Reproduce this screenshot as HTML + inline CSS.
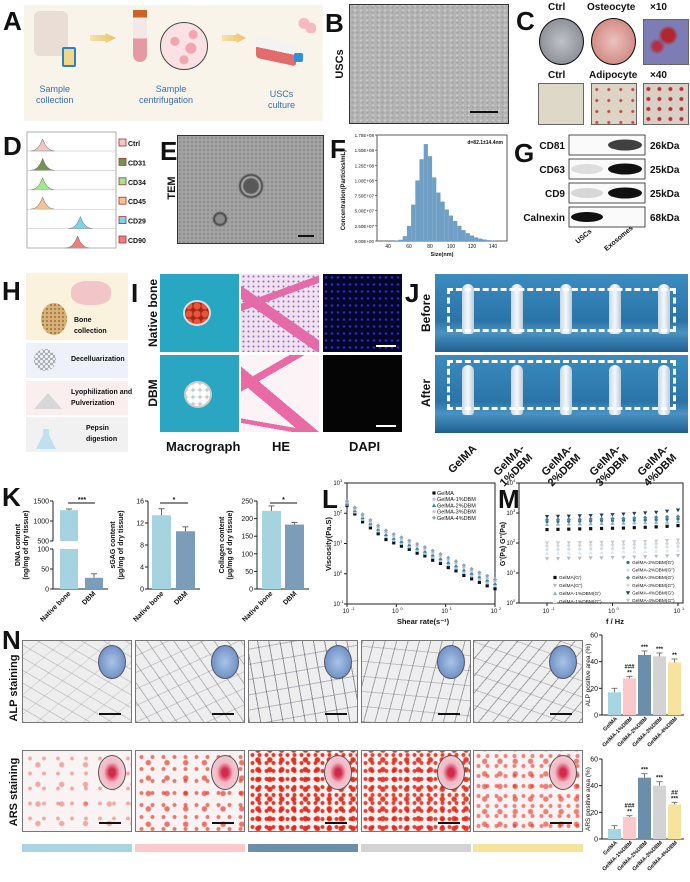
<!DOCTYPE html>
<html><head><meta charset="utf-8">
<style>
*{margin:0;padding:0;box-sizing:border-box}
body{width:690px;height:882px;background:#fff;position:relative;overflow:hidden;font-family:"Liberation Sans",Arial,sans-serif;color:#111}
.a{position:absolute}
.lbl{position:absolute;font-weight:bold;font-size:26px;line-height:1}
.t{position:absolute;font-weight:bold;white-space:nowrap}
.img{position:absolute;border:1px solid #666}
</style></head>
<body>

<!-- A -->
<div class="lbl" style="left:3px;top:8px">A</div>
<div class="a" style="left:24px;top:5px;width:222px;height:116px;background:#f8f4ea">
  <div class="a" style="left:10px;top:6px;width:34px;height:45px;background:#e9ddd5;border-radius:6px"></div>
  <div class="a" style="left:38px;top:42px;width:14px;height:20px;background:#f1d888;border:2px solid #2f7fc4;border-radius:2px"></div>
  <div class="a" style="left:66px;top:28px;width:26px;height:10px;background:linear-gradient(90deg,#f6e2b0,#f0c060);clip-path:polygon(0 20%,60% 20%,60% 0,100% 50%,60% 100%,60% 80%,0 80%)"></div>
  <div class="a" style="left:109px;top:5px;width:14px;height:52px;background:linear-gradient(#c86428 0 14%,#f4e7e7 14% 55%,#e39aa2 55%);border-radius:0 0 7px 7px"></div>
  <div class="a" style="left:136px;top:17px;width:48px;height:48px;border-radius:50%;border:1.5px solid #444;background:radial-gradient(circle at 30% 40%,#f0a6ae 0 4px,transparent 5px),radial-gradient(circle at 65% 55%,#f0a6ae 0 5px,transparent 6px),radial-gradient(circle at 50% 80%,#f0a6ae 0 4px,transparent 5px),radial-gradient(circle at 70% 25%,#f0a6ae 0 4px,transparent 5px),#fbe1e3"></div>
  <div class="a" style="left:198px;top:28px;width:24px;height:10px;background:linear-gradient(90deg,#f6e2b0,#f0c060);clip-path:polygon(0 20%,60% 20%,60% 0,100% 50%,60% 100%,60% 80%,0 80%)"></div>
  <div class="t" style="left:12px;top:79px;font-size:9px;color:#3a6db0;text-align:center;line-height:11px;font-weight:normal">Sample<br>collection</div>
  <div class="t" style="left:115px;top:79px;font-size:9px;color:#3a6db0;text-align:center;line-height:11px;font-weight:normal">&nbsp;&nbsp;&nbsp;&nbsp;Sample<br>centrifugation</div>
</div>
<div class="a" style="left:246px;top:5px;width:77px;height:116px;background:#f8f4ea">
  <div class="a" style="left:10px;top:35px;width:40px;height:22px;background:linear-gradient(#f3f3f3 50%,#e36b6b 50%);transform:skewY(12deg);border-radius:3px"></div>
  <div class="a" style="left:48px;top:48px;width:9px;height:9px;background:#2f8fd8;border-radius:2px"></div>
  <div class="a" style="left:50px;top:12px;width:20px;height:16px;background:radial-gradient(circle at 40% 40%,#f7b8bf 0 5px,transparent 6px),radial-gradient(circle at 75% 70%,#f7b8bf 0 5px,transparent 6px)"></div>
  <div class="t" style="left:22px;top:84px;font-size:9px;color:#3a6db0;text-align:center;line-height:11px;font-weight:normal">USCs<br>culture</div>
</div>

<!-- B -->
<div class="lbl" style="left:325px;top:10px">B</div>
<div class="img" style="left:349px;top:4px;width:160px;height:120px;background:radial-gradient(circle,#a2a2a2 0.8px,transparent 1.4px) 0 0/5px 5px,radial-gradient(circle,#cacaca 0.8px,transparent 1.4px) 2px 3px/6px 5px,#b4b4b4;border:1.5px solid #333">
  <div class="a" style="right:10px;bottom:10px;width:28px;height:2px;background:#111"></div>
</div>

<!-- C -->
<div class="lbl" style="left:516px;top:8px">C</div>
<div class="t" style="left:548px;top:2px;font-size:10px">Ctrl</div>
<div class="t" style="left:587px;top:2px;font-size:10px">Osteocyte</div>
<div class="t" style="left:650px;top:2px;font-size:10px">×10</div>
<div class="a" style="left:539px;top:18px;width:45px;height:47px;border-radius:50%;border:1.5px solid #111;background:radial-gradient(#bfc2c8,#7a7e86)"></div>
<div class="a" style="left:591px;top:18px;width:45px;height:47px;border-radius:50%;border:1.5px solid #111;background:radial-gradient(#ecc2bf,#c8776d)"></div>
<div class="img" style="left:643px;top:19px;width:46px;height:46px;background:radial-gradient(circle at 55% 35%,#b3262b 0 6px,transparent 10px),radial-gradient(circle at 30% 60%,#b33040 0 4px,transparent 8px),#7d7db5"></div>
<div class="t" style="left:548px;top:70px;font-size:10px">Ctrl</div>
<div class="t" style="left:589px;top:70px;font-size:10px">Adipocyte</div>
<div class="t" style="left:650px;top:70px;font-size:10px">×40</div>
<div class="img" style="left:538px;top:83px;width:46px;height:42px;background:#ddd8c8"></div>
<div class="img" style="left:591px;top:83px;width:46px;height:42px;background:radial-gradient(circle at 40% 50%,#c0474e 0 1px,transparent 2px) 0 0/12px 11px,#ddd4c6"></div>
<div class="img" style="left:643px;top:83px;width:46px;height:42px;background:radial-gradient(circle at 40% 50%,#b8323c 0 1.5px,transparent 2.5px) 0 0/11px 10px,#d9cfc4"></div>

<div class="lbl" style="left:3px;top:133px">D</div>

<!-- E -->
<div class="lbl" style="left:160px;top:138px">E</div>
<div class="img" style="left:177px;top:135px;width:147px;height:109px;background:radial-gradient(circle at 73px 50px,#585858 0 7px,#b0b0b0 9px,#444 11px,transparent 13px),radial-gradient(circle at 42px 83px,#8a8a8a 0 4px,#444 6px,transparent 8px),radial-gradient(circle,#8f8f8f .8px,transparent 1.5px) 0 0/4px 4px,#a3a3a3;border:1.5px solid #333">
  <div class="a" style="right:9px;bottom:6px;width:16px;height:2px;background:#111"></div>
</div>

<div class="lbl" style="left:330px;top:136px">F</div>
<div class="lbl" style="left:514px;top:140px">G</div>

<!-- H -->
<div class="lbl" style="left:2px;top:278px">H</div>
<div class="a" style="left:26px;top:273px;width:102px;height:67px;background:#faf2dd">
  <div class="a" style="left:15px;top:30px;width:26px;height:32px;border-radius:50%;background:radial-gradient(circle,#a07a40 .8px,transparent 1.3px) 0 0/4px 4px,#d8b078"></div>
  <div class="a" style="left:45px;top:8px;width:40px;height:24px;border-radius:40%;background:#f2c6c8"></div>
  <div class="t" style="left:48px;top:42px;font-size:7px;line-height:11px">Bone<br>collection</div>
</div>
<div class="a" style="left:26px;top:343px;width:102px;height:35px;background:#eef1fa">
  <div class="a" style="left:8px;top:6px;width:22px;height:22px;border-radius:50%;background:radial-gradient(circle,transparent 1.5px,#666 2px,transparent 2.5px) 0 0/5px 5px"></div>
  <div class="t" style="left:45px;top:13px;font-size:7px">Decelluarization</div>
</div>
<div class="a" style="left:26px;top:381px;width:102px;height:34px;background:#fbeeee">
  <div class="a" style="left:8px;top:12px;width:28px;height:16px;background:#d8d8d8;clip-path:polygon(50% 0,100% 100%,0 100%)"></div>
  <div class="t" style="left:45px;top:6px;font-size:7px;line-height:11px">Lyophilization and<br>Pulverization</div>
</div>
<div class="a" style="left:26px;top:417px;width:102px;height:35px;background:#f1f1f1">
  <div class="a" style="left:10px;top:12px;width:20px;height:20px;background:#bfe0f0;clip-path:polygon(35% 0,65% 0,65% 30%,100% 100%,0 100%,35% 30%)"></div>
  <div class="t" style="left:60px;top:6px;font-size:7px;line-height:11px">Pepsin<br>digestion</div>
</div>

<!-- I -->
<div class="lbl" style="left:131px;top:280px">I</div>
<div class="a" style="left:160px;top:274px;width:79px;height:78px;background:#28a7c3"><div class="a" style="left:23px;top:26px;width:28px;height:26px;border-radius:50%;background:radial-gradient(circle,#e8553a 0 3px,#a02818 4px) 0 0/8px 8px;border:2px solid #ddd"></div></div>
<div class="a" style="left:241px;top:274px;width:78px;height:78px;background:linear-gradient(35deg,transparent 40%,#e56aa8 40% 50%,transparent 50%),linear-gradient(-20deg,transparent 65%,#e56aa8 65% 72%,transparent 72%),radial-gradient(circle,#8a6fc0 .7px,transparent 1.3px) 0 0/5px 5px,#f2e2ef"></div>
<div class="a" style="left:323px;top:274px;width:79px;height:78px;background:radial-gradient(circle,#2a2ad0 .8px,transparent 1.6px) 0 0/6px 7px,#06062a"><div class="a" style="right:6px;bottom:5px;width:20px;height:2px;background:#fff"></div></div>
<div class="a" style="left:160px;top:355px;width:79px;height:77px;background:#2aa6c2"><div class="a" style="left:24px;top:26px;width:28px;height:27px;border-radius:50%;background:radial-gradient(circle,#fff 0 3px,#c8c8c8 4px) 0 0/7px 7px;border:2px solid #ccc"></div></div>
<div class="a" style="left:241px;top:355px;width:78px;height:77px;background:linear-gradient(40deg,transparent 35%,#ea6aa6 35% 46%,transparent 46%),linear-gradient(-30deg,transparent 70%,#ea6aa6 70% 77%,transparent 77%),linear-gradient(10deg,transparent 10%,#ea6aa6 10% 15%,transparent 15%),#fbf3f6"></div>
<div class="a" style="left:323px;top:355px;width:79px;height:77px;background:#050505"><div class="a" style="right:6px;bottom:5px;width:20px;height:2px;background:#fff"></div></div>
<div class="t" style="left:166px;top:439px;font-size:13px">Macrograph</div>
<div class="t" style="left:272px;top:439px;font-size:13px">HE</div>
<div class="t" style="left:349px;top:439px;font-size:13px">DAPI</div>

<!-- J -->
<div class="lbl" style="left:405px;top:280px">J</div>
<div id="jphotos"></div>

<div class="lbl" style="left:2px;top:484px">K</div>
<div class="lbl" style="left:322px;top:486px">L</div>
<div class="lbl" style="left:498px;top:486px">M</div>

<div class="lbl" style="left:2px;top:627px">N</div>
<div id="nimgs"></div>

<svg id="chart" class="a" style="left:0;top:0" width="690" height="882"></svg>

<script>
// ---------- DATA ----------
const dMarkers = ["Ctrl","CD31","CD34","CD45","CD29","CD90"];
const dPeakLog = [0.45,0.45,0.45,0.45,1.8,1.7];
const fSizes = [44,48,52,56,60,64,68,72,76,80,84,88,92,96,100,104,108,112,116,120,124,128,132,136,140];
const fConc = [0.0,0.05,0.2,0.8,2.5,6,10,13.5,16,14,10.5,8,6.5,5.2,4.2,3.3,2.5,1.8,1.3,0.9,0.6,0.4,0.25,0.15,0.05];
const fTicksY = ["0.00E+00","2.50E+07","5.00E+07","7.50E+07","1.00E+08","1.25E+08","1.50E+08","1.75E+08"];
const fTicksX = [40,60,80,100,120,140];
const gProteins = ["CD81","CD63","CD9","Calnexin"];
const gWeights = ["26kDa","25kDa","25kDa","68kDa"];
const gUSCs = [0,0.12,0.15,1];
const gExo = [0.8,1,1,0];
const kCats = ["Native bone","DBM"];
const kDNA = [1270,28];
const kDNAerr = [30,10];
const kGAG = [13.4,10.5];
const kGAGerr = [1.2,0.8];
const kCol = [222,183];
const kColErr = [14,6];
const lShear = [0.1,0.144,0.207,0.298,0.428,0.616,0.886,1.27,1.83,2.64,3.79,5.46,7.85,11.3,16.2,23.4,33.6,48.3,69.5,100];
const lGelMA = [180,95,52,33,21,13.5,10.5,8.2,6.4,4.8,3.9,2.8,2.2,1.6,1.25,0.88,0.68,0.52,0.4,0.32];
const lD1 = [200,110,62,40,26,17,12.8,10,7.8,5.9,4.7,3.5,2.7,2.0,1.55,1.1,0.85,0.65,0.5,0.4];
const lD2 = [215,125,72,47,30,20,15,11.8,9.2,7,5.6,4.2,3.2,2.4,1.85,1.35,1.05,0.8,0.62,0.48];
const lD3 = [235,140,82,53,34,23,17.5,13.8,10.8,8.2,6.5,4.9,3.8,2.9,2.2,1.6,1.25,0.95,0.72,0.56];
const lD4 = [255,155,92,60,39,27,20.5,16,12.5,9.6,7.6,5.8,4.5,3.4,2.6,1.9,1.45,1.1,0.85,0.65];
const lNames = ["GelMA","GelMA-1%DBM","GelMA-2%DBM","GelMA-3%DBM","GelMA-4%DBM"];
const mFreq = [0.1,0.147,0.215,0.316,0.464,0.681,1,1.47,2.15,3.16,4.64,6.81,10];
const mG1 = [280,285,290,295,300,305,310,315,325,335,345,360,380];
const mGG1 = [30,30,31,31,32,32,33,33,34,35,36,37,38];
const mG2 = [420,425,430,435,440,450,455,460,470,480,490,500,520];
const mGG2 = [45,46,46,47,48,48,49,50,51,52,53,55,57];
const mG3 = [520,525,530,535,545,555,560,570,580,590,600,620,640];
const mGG3 = [60,61,62,63,64,65,66,67,68,70,72,74,76];
const mG4 = [600,605,610,620,630,640,650,660,680,700,720,740,760];
const mGG4 = [80,81,82,83,84,85,86,88,90,92,94,96,98];
const mG5 = [760,770,780,800,820,850,880,920,960,1000,1050,1150,1250];
const mGG5 = [100,101,102,103,104,105,106,108,110,112,115,120,125];
const nGroups = ["GelMA","GelMA-1%DBM","GelMA-2%DBM","GelMA-3%DBM","GelMA-4%DBM"];
const nALP = [17,27.5,45,44,39.5];
const nALPerr = [3,1.5,3,2.5,2.5];
const nALPsig = ["","###\n**","***","***","**"];
const nARS = [7.5,16.5,46,40,26];
const nARSerr = [2.5,1,3,3,1.5];
const nARSsig = ["","###\n**","***","***","##\n***"];
const nTicks = [0,20,40,60];

// ---------- HELPERS ----------
const NS="http://www.w3.org/2000/svg";
const svg=document.getElementById('chart');
function mk(tag,attrs,parent){const e=document.createElementNS(NS,tag);for(const k in attrs)e.setAttribute(k,attrs[k]);(parent||svg).appendChild(e);return e;}
function txt(x,y,s,size,opts){const e=mk('text',Object.assign({x:x,y:y,'font-size':size,'font-family':'Liberation Sans, Arial, sans-serif','font-weight':'bold',fill:'#111'},opts||{}));e.textContent=s;return e;}
function lin(d0,d1,r0,r1){return v=>r0+(v-d0)/(d1-d0)*(r1-r0);}
function logs(d0,d1,r0,r1){return v=>r0+(Math.log10(v)-Math.log10(d0))/(Math.log10(d1)-Math.log10(d0))*(r1-r0);}
function div(parent,css){const e=document.createElement('div');e.className='a';e.style.cssText=css;parent.appendChild(e);return e;}

// rotated row labels
[["USCs",340,64,11,"uscs-axis-label"],["TEM",172,188,11,"tem-label"],["Native bone",154,313,12,"native-bone-row-label"],["DBM",154,393,12,"dbm-row-label"],["Before",427,313,12,"before-label"],["After",427,393,12,"after-label"],["ALP staining",14,688,11,"alp-staining-label"],["ARS staining",14,792,11,"ars-staining-label"]].forEach(a=>{
  const t=txt(a[1],a[2],a[0],a[3],{'text-anchor':'middle',transform:`rotate(-90 ${a[1]} ${a[2]})`,'dominant-baseline':'middle'});
  
  
});

// ---------- D ----------
mk('rect',{x:27,y:132,width:89,height:116,fill:'none',stroke:'#999','stroke-width':0.8});
const dCols=["#f2c6c6","#6f9652","#9fe88e","#f4c38f","#77d3ef","#f07d7d"];
const dx=logs(1,1000,30,114);
dMarkers.forEach((m,i)=>{
  const base=151+i*19.4;
  const cx=dx(Math.pow(10,dPeakLog[i]));
  const g=mk('path',{d:`M${cx-12},${base} Q${cx-4},${base} ${cx},${base-12} Q${cx+4},${base} ${cx+12},${base} Z`,fill:dCols[i],stroke:'#666','stroke-width':0.5});
  
  
  mk('line',{x1:27,x2:116,y1:base,y2:base,stroke:'#bbb','stroke-width':0.5});
  const r=mk('rect',{x:119,y:base-12,width:7,height:7,fill:dCols[i],stroke:'#a33','stroke-width':0.8});
  
  
  const t=txt(128,base-5,m,7);
  
  
});

// ---------- F ----------
const fx=lin(40,140,388,493), fy=lin(0,17.5,241,135);
mk('rect',{x:377,y:135,width:130,height:106,fill:'none',stroke:'#333','stroke-width':0.8});
fSizes.forEach((s,i)=>{
  const b=mk('rect',{x:fx(s-2),y:fy(fConc[i]),width:fx(s+2)-fx(s-2),height:fy(0)-fy(fConc[i]),fill:'#6f9fc4'});
  
  
});
fTicksY.forEach((t,i)=>{const y=fy(i*2.5);mk('line',{x1:375,x2:377,y1:y,y2:y,stroke:'#333','stroke-width':0.6});txt(374,y+2,t,4.5,{'text-anchor':'end','font-weight':'normal'});});
fTicksX.forEach(v=>{txt(fx(v),248,String(v),5,{'text-anchor':'middle','font-weight':'normal'});});
txt(442,256,'Size(nm)',5.5,{'text-anchor':'middle'});
txt(345,190,'Concentration(Particles/mL)',6,{'text-anchor':'middle',transform:'rotate(-90 345 190)'});
txt(503,144,'d=82.1±14.4nm',5,{'text-anchor':'end'});

// ---------- G ----------
gProteins.forEach((p,i)=>{
  const y0=[135,159,183,207][i];
  const r=mk('rect',{x:569,y:y0,width:76,height:20,fill:'#fafafa',stroke:'#222','stroke-width':0.8});
  
  
  if(gUSCs[i]>0) mk('ellipse',{cx:587,cy:y0+10,rx:16,ry:5,fill:'#111','fill-opacity':gUSCs[i]});
  if(gExo[i]>0) mk('ellipse',{cx:625,cy:y0+10,rx:17,ry:5.5,fill:'#111','fill-opacity':gExo[i]});
  txt(565,y0+14,p,10,{'text-anchor':'end'});
  txt(650,y0+14,gWeights[i],10);
});
txt(585,238,'USCs',7,{transform:'rotate(-40 585 238)','text-anchor':'middle'});
txt(620,240,'Exosomes',7,{transform:'rotate(-40 620 240)','text-anchor':'middle'});

// ---------- J photos ----------
(function(){
  const host=document.getElementById('jphotos');
  [274,355].forEach((top,r)=>{
    const p=div(host,`left:435px;top:${top}px;width:253px;height:78px;background:linear-gradient(#3b8cbf,#2a74a8 60%,#4a93c2 75%,#1f5f92)`);
    
    
    for(let i=0;i<5;i++){
      const tb=div(p,`left:${27+i*49}px;top:10px;width:12px;height:50px;background:linear-gradient(90deg,#c8d8e4,#f4f8fb,#b8ccdc);border-radius:6px 6px 3px 3px`);
      
      
    }
    const d=div(p,`left:12px;top:${r?5:14}px;width:229px;height:${r?50:44}px;border:3px dashed #fff`);
    
    
  });
  ["GelMA","GelMA-\n1%DBM","GelMA-\n2%DBM","GelMA-\n3%DBM","GelMA-\n4%DBM"].forEach((s,i)=>{
    const x=472+i*48, y=444;
    s.split('\n').forEach((line,k)=>{
      const t=txt(x+k*8,y+k*9,line,11,{transform:`rotate(-45 ${x+k*8} ${y+k*9})`,'text-anchor':'end','dominant-baseline':'hanging'});
      
      
    });
  });
})();

// ---------- K ----------
function axisY(x,ticks,yf){mk('line',{x1:x,x2:x,y1:yf(ticks[ticks.length-1]),y2:yf(ticks[0]),stroke:'#222','stroke-width':1});ticks.forEach(t=>{mk('line',{x1:x-3,x2:x,y1:yf(t),y2:yf(t),stroke:'#222','stroke-width':1});txt(x-4,yf(t)+2.5,String(t),7,{'text-anchor':'end','font-weight':'normal'});});}
const kColors=["#a6d3e0","#7b9db9"];
const k1lo=lin(0,100,589,549), k1hi=lin(500,1500,541,501);
mk('line',{x1:53,x2:53,y1:589,y2:549,stroke:'#222'});mk('line',{x1:53,x2:53,y1:541,y2:501,stroke:'#222'});
[0,50,100].forEach(t=>{mk('line',{x1:50,x2:53,y1:k1lo(t),y2:k1lo(t),stroke:'#222'});txt(49,k1lo(t)+2.5,String(t),7,{'text-anchor':'end','font-weight':'normal'});});
[500,1000,1500].forEach(t=>{mk('line',{x1:50,x2:53,y1:k1hi(t),y2:k1hi(t),stroke:'#222'});txt(49,k1hi(t)+2.5,String(t),7,{'text-anchor':'end','font-weight':'normal'});});
mk('line',{x1:53,x2:108,y1:589,y2:589,stroke:'#222'});
kDNA.forEach((v,i)=>{
  const x=[60,85][i], w=18;
  let b;
  if(v>100){mk('rect',{x:x,y:k1lo(100),width:w,height:k1lo(0)-k1lo(100),fill:kColors[i]});b=mk('rect',{x:x,y:k1hi(v),width:w,height:k1hi(500)-k1hi(v),fill:kColors[i]});
    mk('line',{x1:x+w/2,x2:x+w/2,y1:k1hi(v),y2:k1hi(v+kDNAerr[i]),stroke:'#666'});mk('line',{x1:x+w/2-3,x2:x+w/2+3,y1:k1hi(v+kDNAerr[i]),y2:k1hi(v+kDNAerr[i]),stroke:'#666'});}
  else{b=mk('rect',{x:x,y:k1lo(v),width:w,height:k1lo(0)-k1lo(v),fill:kColors[i]});
    mk('line',{x1:x+w/2,x2:x+w/2,y1:k1lo(v),y2:k1lo(v+kDNAerr[i]),stroke:'#666'});mk('line',{x1:x+w/2-3,x2:x+w/2+3,y1:k1lo(v+kDNAerr[i]),y2:k1lo(v+kDNAerr[i]),stroke:'#666'});}
  
  
});
function kChart(ax,vals,errs,ticks,bx,sig,name){
  const yf=lin(ticks[0],ticks[ticks.length-1],589,501);
  axisY(ax,ticks,yf);
  mk('line',{x1:ax,x2:ax+52,y1:589,y2:589,stroke:'#222'});
  vals.forEach((v,i)=>{
    const b=mk('rect',{x:bx[i],y:yf(v),width:19,height:589-yf(v),fill:kColors[i]});
    
    
    const cx=bx[i]+9.5;
    mk('line',{x1:cx,x2:cx,y1:yf(v),y2:yf(v+errs[i]),stroke:'#666'});mk('line',{x1:cx-3,x2:cx+3,y1:yf(v+errs[i]),y2:yf(v+errs[i]),stroke:'#666'});
  });
  mk('line',{x1:bx[0]+8,x2:bx[1]+12,y1:503,y2:503,stroke:'#111','stroke-width':1});
  txt((bx[0]+bx[1])/2+10,502,sig,7,{'text-anchor':'middle'});
}
mk('line',{x1:68,x2:95,y1:503,y2:503,stroke:'#111'});txt(82,502,'***',7,{'text-anchor':'middle'});
kChart(148,kGAG,kGAGerr,[0,4,8,12,16],[152,176],'*','gag');
kChart(257,kCol,kColErr,[0,50,100,150,200,250],[262,285],'*','collagen');
[[20,28,'DNA content','(ng/mg of dry tissue)'],[115,123,'sGAG content','(μg/mg of dry tissue)'],[224,232,'Collagen content','(μg/mg of dry tissue)']].forEach(a=>{
  txt(a[0],545,a[2],7,{'text-anchor':'middle',transform:`rotate(-90 ${a[0]} 545)`});
  txt(a[1],545,a[3],7,{'text-anchor':'middle',transform:`rotate(-90 ${a[1]} 545)`});
});
[[69,94],[162,186],[271,295]].forEach(p=>{kCats.forEach((c,i)=>{const x=p[i]+2,y=594;txt(x,y,c,7,{'text-anchor':'end',transform:`rotate(-45 ${x} ${y})`});});});

// ---------- L ----------
const lx=logs(0.1,100,347,495), ly=logs(0.1,1000,604,483);
mk('rect',{x:347,y:483,width:148,height:121,fill:'none',stroke:'#222','stroke-width':1});
[0.1,1,10,100,1000].forEach((t,i)=>{const y=ly(t);mk('line',{x1:344,x2:347,y1:y,y2:y,stroke:'#222'});txt(340,y+2,'10',6,{'text-anchor':'end','font-weight':'normal'});txt(340,y-1,String(i-1),4,{'font-weight':'normal'});});
[0.1,1,10,100].forEach((t,i)=>{const x=lx(t);mk('line',{x1:x,x2:x,y1:604,y2:607,stroke:'#222'});txt(x-1,613,'10',6,{'text-anchor':'middle','font-weight':'normal'});txt(x+4,610,String(i-1),4,{'font-weight':'normal'});});
txt(423,624,'Shear rate(s⁻¹)',7.5,{'text-anchor':'middle'});
txt(331,544,'Viscosity(Pa.S)',7.5,{'text-anchor':'middle',transform:'rotate(-90 331 544)'});
const lSeries=[lGelMA,lD1,lD2,lD3,lD4];
const lCol=["#111","#9ad0e6","#3d7fb0","#c8c8c8","#8fa6ba"];
function marker(kind,x,y,c,s){s=s||2;
  if(kind==='sq')return mk('rect',{x:x-s,y:y-s,width:2*s,height:2*s,fill:c});
  if(kind==='ci')return mk('circle',{cx:x,cy:y,r:s,fill:c});
  if(kind==='tr')return mk('path',{d:`M${x},${y-s-0.5}L${x+s+0.5},${y+s}L${x-s-0.5},${y+s}Z`,fill:c});
  if(kind==='td')return mk('path',{d:`M${x},${y+s+0.5}L${x+s+0.5},${y-s}L${x-s-0.5},${y-s}Z`,fill:c});
  return mk('path',{d:`M${x},${y-s-0.5}L${x+s+0.5},${y}L${x},${y+s+0.5}L${x-s-0.5},${y}Z`,fill:c});}
const lKinds=['sq','ci','tr','di','di'];
lSeries.forEach((ser,si)=>{ser.forEach((v,i)=>{
  const p=marker(lKinds[si],lx(lShear[i]),ly(v),lCol[si],1.6);
  
  
});});
lNames.forEach((n,i)=>{marker(lKinds[i],434,493+i*6.2,lCol[i],1.6);txt(437,495+i*6.2,n,5.5,{'font-weight':'normal'});});

// ---------- M ----------
const mx=logs(0.1,10,547,678), my=logs(1,10000,603,483);
mk('rect',{x:519,y:483,width:164,height:120,fill:'none',stroke:'#222','stroke-width':1});
[1,10,100,1000,10000].forEach((t,i)=>{const y=my(t);mk('line',{x1:516,x2:519,y1:y,y2:y,stroke:'#222'});txt(513,y+2,'10',6,{'text-anchor':'end','font-weight':'normal'});txt(513,y-1,String(i),4,{'font-weight':'normal'});});
[0.1,1,10].forEach((t,i)=>{const x=mx(t);mk('line',{x1:x,x2:x,y1:603,y2:606,stroke:'#222'});txt(x-1,613,'10',6,{'text-anchor':'middle','font-weight':'normal'});txt(x+4,610,String(i-1),4,{'font-weight':'normal'});});
txt(615,624,'f / Hz',7.5,{'text-anchor':'middle'});
txt(505,544,"G'(Pa)  G''(Pa)",7,{'text-anchor':'middle',transform:'rotate(-90 505 544)'});
const mSeries=[mG1,mGG1,mG2,mGG2,mG3,mGG3,mG4,mGG4,mG5,mGG5];
const mNames=["GelMA(G')","GelMA(G'')","GelMA-1%DBM(G')","GelMA-1%DBM(G'')","GelMA-2%DBM(G')","GelMA-2%DBM(G'')","GelMA-3%DBM(G')","GelMA-3%DBM(G'')","GelMA-4%DBM(G')","GelMA-4%DBM(G'')"];
const mCol=["#111","#bbb","#86b4c8","#dde8ee","#2f6f98","#cfe0ea","#5f7f99","#d8d8d8","#1d3e62","#c4ccd4"];
const mKinds=['sq','td','tr','tr','ci','ci','di','di','td','td'];
mSeries.forEach((ser,si)=>{ser.forEach((v,i)=>{
  const p=marker(mKinds[si],mx(mFreq[i]),my(v),mCol[si],1.6);
  
  
});});
mNames.forEach((n,i)=>{
  const left=[0,1,2,3].includes(i);
  const x=left?555:628, y=left?579+i*8:564+(i-4)*7.6;
  marker(mKinds[i],x,y-1.5,mCol[i],1.6);
  txt(x+4,y,n,4.8,{'font-weight':'normal'});
});

// ---------- N images ----------
(function(){
  const host=document.getElementById('nimgs');
  const xs=[22,135,248,361,473];
  const alpDens=[0.22,0.35,0.55,0.45,0.45];
  const arsDens=[0.35,0.6,0.9,0.85,0.55];
  const arsSize=[14,11,7,7,9];
  const barCols=["#a8d5e2","#f9c9cc","#6b8fab","#d3d3d3","#f8e2a0"];
  xs.forEach((x,i)=>{
    const a=div(host,`left:${x}px;top:640px;width:110px;height:83px;border:1px solid #777;background:repeating-linear-gradient(${30+i*25}deg,rgba(70,70,90,${alpDens[i]}) 0 1px,transparent 1px 11px),repeating-linear-gradient(${-40+i*15}deg,rgba(70,70,90,${alpDens[i]*0.6}) 0 1px,transparent 1px 15px),#eeeeee`);
    
    
    const ca=div(a,'right:5px;top:4px;width:28px;height:34px;border-radius:50%;border:1px solid #556;background:radial-gradient(#a9c4e8,#5c7fb8)');
    
    
    div(a,'right:10px;bottom:7px;width:22px;height:2px;background:#111');
    const s=arsSize[i];
    const r=div(host,`left:${x}px;top:750px;width:110px;height:82px;border:1px solid #777;background:radial-gradient(circle,rgba(228,35,18,${arsDens[i]}) 0 1.6px,transparent 2.4px) 0 0/${s}px ${s+1}px,radial-gradient(circle,rgba(225,30,15,${arsDens[i]}) 0 2.2px,transparent 3.2px) 3px 4px/${s*1.7}px ${s*1.4}px,#faf3f3`);
    
    
    const cr=div(r,'right:5px;top:4px;width:28px;height:35px;border-radius:50%;border:1px solid #555;background:radial-gradient(#d22a4a 0 3px,#f1b8c4 8px,#f6dde2)');
    
    
    div(r,'right:10px;bottom:7px;width:22px;height:2px;background:#111');
    const cb=div(host,`left:${x}px;top:844px;width:110px;height:8px;background:${barCols[i]}`);
    
    
  });
})();

// ---------- N bar charts ----------
const nCols=["#a8d5e2","#f9c9cc","#6b8fab","#d3d3d3","#f8e2a0"];
const nBx=[608,623,638,653,668];
function nChart(vals,errs,sig,y0,y1,title,name){
  const yf=lin(0,60,y0,y1);
  axisY(602,nTicks,yf);
  mk('line',{x1:602,x2:684,y1:y0,y2:y0,stroke:'#222'});
  vals.forEach((v,i)=>{
    const b=mk('rect',{x:nBx[i],y:yf(v),width:13,height:y0-yf(v),fill:nCols[i]});
    
    
    const cx=nBx[i]+6.5;
    mk('line',{x1:cx,x2:cx,y1:yf(v),y2:yf(v+errs[i]),stroke:'#777'});mk('line',{x1:cx-3,x2:cx+3,y1:yf(v+errs[i]),y2:yf(v+errs[i]),stroke:'#777'});
    const lines=sig[i].split('\n');
    lines.forEach((s,k)=>{if(s)txt(cx,yf(v+errs[i])-2-(lines.length-1-k)*6,s,6,{'text-anchor':'middle'});});
    txt(cx+3,y0+4,nGroups[i],5.5,{'text-anchor':'end',transform:`rotate(-45 ${cx+3} ${y0+4})`});
  });
  txt(590,(y0+y1)/2,title,6.5,{'text-anchor':'middle',transform:`rotate(-90 590 ${(y0+y1)/2})`,'font-weight':'normal'});
}
nChart(nALP,nALPerr,nALPsig,715,635,'ALP positive area (%)','alp');
nChart(nARS,nARSerr,nARSsig,839,759,'ARS positive area (%)','ars');
</script>
</body></html>
